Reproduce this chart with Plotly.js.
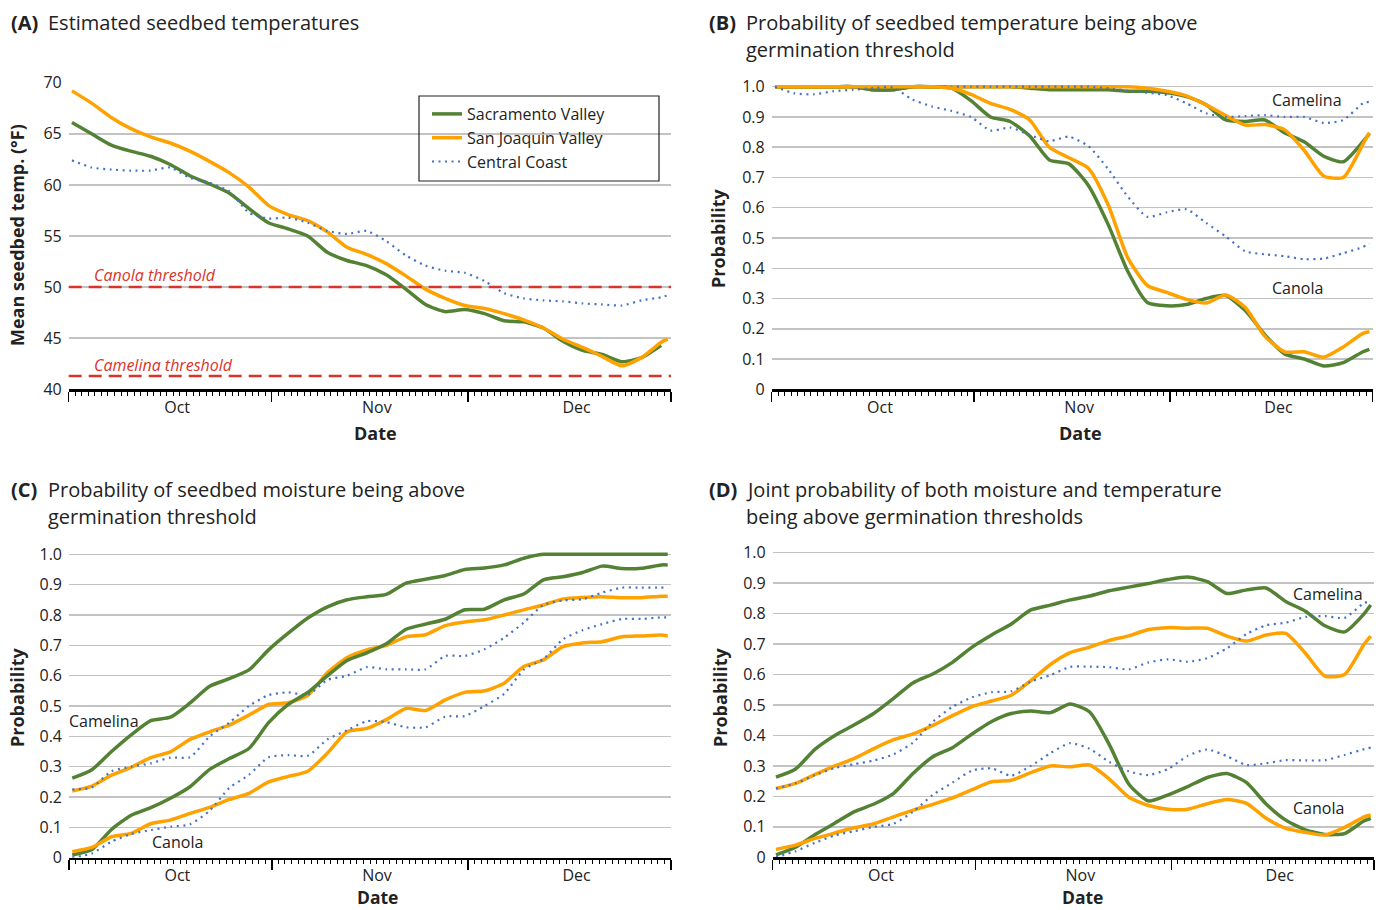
<!DOCTYPE html>
<html><head><meta charset="utf-8">
<script src="https://cdn.plot.ly/plotly-3.0.1.min.js"></script>
<style>body{margin:0;background:#fff}#chart{width:1384px;height:910px}</style>
</head><body><div id="chart"></div>
<script>
// ---- categories (sample dates, every 3 days + last day) ----
const dates = ['2021-10-01','2021-10-04','2021-10-07','2021-10-10','2021-10-13','2021-10-16','2021-10-19','2021-10-22','2021-10-25','2021-10-28','2021-10-31',
'2021-11-03','2021-11-06','2021-11-09','2021-11-12','2021-11-15','2021-11-18','2021-11-21','2021-11-24','2021-11-27','2021-11-30',
'2021-12-03','2021-12-06','2021-12-09','2021-12-12','2021-12-15','2021-12-18','2021-12-21','2021-12-24','2021-12-27','2021-12-30','2021-12-31'];
const regions = ['Sacramento Valley','San Joaquin Valley','Central Coast'];

// ---- (A) mean seedbed temperature, °F ----
const tempSac = [66.1,65.0,63.9,63.3,62.8,62.0,60.9,60.1,59.2,57.7,56.3,55.7,55.0,53.4,52.6,52.1,51.2,49.8,48.3,47.6,47.8,47.4,46.7,46.6,46.0,44.7,43.8,43.4,42.7,43.1,44.3,null];
const tempSjv = [69.2,68.0,66.6,65.5,64.7,64.1,63.3,62.3,61.2,59.8,58.0,57.1,56.5,55.4,53.9,53.2,52.3,51.1,49.8,48.9,48.2,47.9,47.4,46.8,46.0,44.9,44.1,43.2,42.3,43.1,44.6,44.9];
const tempCc  = [62.4,61.7,61.5,61.4,61.4,61.7,60.7,60.2,59.4,57.3,56.7,56.8,56.3,55.5,55.2,55.5,54.5,53.1,52.1,51.6,51.4,50.6,49.4,48.9,48.7,48.6,48.4,48.3,48.2,48.7,49.0,49.2];
const thresholdNames = ['Canola threshold','Camelina threshold'];
const thresholdValues = [50.0, 41.3];

// ---- (B) probability of temperature above threshold ----
const tCamSac = [1,1,1,1,1,0.99,0.99,1,1,1,1,1,1,0.995,0.99,0.99,0.99,0.99,0.985,0.985,0.98,0.967,0.94,0.89,0.885,0.89,0.848,0.818,0.77,0.752,0.818,0.845];
const tCamSjv = [1,1,1,1,1,1,1,1,1,1,1,1,1,1,1,1,1,1,1,0.995,0.985,0.97,0.94,0.905,0.873,0.875,0.858,0.79,0.705,0.70,0.81,0.848];
const tCamCc  = [1,1,1,1,1,1,1,1,1,1,1,1,1,1,1,1,1,0.995,0.987,0.98,0.972,0.945,0.912,0.90,0.903,0.906,0.90,0.90,0.88,0.89,0.945,0.95];
const tCanSac = [1,1,1,1,1,0.99,0.99,1,1,0.995,0.954,0.90,0.885,0.837,0.758,0.745,0.673,0.545,0.39,0.287,0.276,0.28,0.30,0.31,0.26,0.18,0.117,0.10,0.077,0.088,0.124,0.132];
const tCanSjv = [1,1,1,1,1,1,1,1,1,0.995,0.975,0.945,0.925,0.89,0.80,0.765,0.73,0.61,0.435,0.343,0.32,0.297,0.285,0.312,0.27,0.175,0.124,0.124,0.106,0.14,0.185,0.19];
const tCanCc  = [1,0.978,0.975,0.985,0.99,0.995,0.998,0.958,0.935,0.92,0.90,0.855,0.865,0.84,0.82,0.835,0.803,0.728,0.637,0.57,0.585,0.595,0.55,0.505,0.456,0.446,0.44,0.43,0.432,0.45,0.47,0.482];

// ---- (C) probability of moisture above threshold ----
const mCamSac = [0.262,0.29,0.35,0.405,0.452,0.463,0.51,0.565,0.59,0.619,0.685,0.74,0.79,0.827,0.85,0.86,0.868,0.905,0.918,0.93,0.95,0.955,0.965,0.987,1,1,1,1,1,1,1,1];
const mCamSjv = [0.22,0.236,0.272,0.298,0.33,0.349,0.39,0.415,0.437,0.47,0.505,0.511,0.535,0.61,0.66,0.685,0.70,0.728,0.735,0.765,0.777,0.784,0.80,0.817,0.833,0.853,0.858,0.86,0.857,0.857,0.862,0.862];
const mCamCc  = [0.225,0.232,0.285,0.30,0.311,0.33,0.331,0.40,0.445,0.50,0.536,0.545,0.537,0.586,0.60,0.628,0.621,0.621,0.621,0.665,0.665,0.687,0.725,0.775,0.833,0.848,0.852,0.874,0.89,0.89,0.89,0.89];
const mCanSac = [0.009,0.027,0.093,0.14,0.165,0.196,0.234,0.291,0.327,0.36,0.445,0.505,0.545,0.60,0.65,0.675,0.705,0.753,0.77,0.786,0.817,0.819,0.85,0.869,0.916,0.926,0.94,0.961,0.953,0.954,0.965,0.965];
const mCanSjv = [0.02,0.034,0.069,0.08,0.112,0.124,0.146,0.166,0.192,0.212,0.25,0.268,0.285,0.345,0.415,0.426,0.455,0.492,0.485,0.52,0.545,0.55,0.575,0.63,0.652,0.696,0.708,0.712,0.728,0.731,0.734,0.731];
const mCanCc  = [0.0,0.014,0.053,0.078,0.091,0.102,0.11,0.155,0.23,0.273,0.331,0.338,0.336,0.39,0.42,0.45,0.447,0.43,0.43,0.465,0.467,0.50,0.54,0.62,0.655,0.72,0.75,0.77,0.787,0.787,0.792,0.792];

// ---- (D) joint probability ----
const jCamSac = [0.263,0.29,0.355,0.40,0.435,0.473,0.522,0.573,0.602,0.64,0.69,0.73,0.766,0.812,0.828,0.845,0.858,0.875,0.887,0.899,0.912,0.92,0.905,0.866,0.878,0.884,0.84,0.808,0.76,0.74,0.80,0.828];
const jCamSjv = [0.226,0.243,0.272,0.30,0.325,0.357,0.386,0.405,0.433,0.465,0.495,0.513,0.532,0.58,0.633,0.672,0.69,0.712,0.727,0.748,0.754,0.752,0.752,0.726,0.71,0.73,0.735,0.67,0.595,0.60,0.70,0.726];
const jCamCc  = [0.226,0.243,0.27,0.293,0.306,0.318,0.338,0.377,0.445,0.494,0.525,0.542,0.545,0.577,0.598,0.625,0.626,0.624,0.617,0.64,0.65,0.642,0.654,0.686,0.733,0.762,0.77,0.789,0.792,0.786,0.835,0.84];
const jCanSac = [0.008,0.033,0.075,0.112,0.15,0.175,0.21,0.276,0.33,0.36,0.405,0.446,0.472,0.48,0.475,0.503,0.477,0.37,0.24,0.185,0.205,0.232,0.262,0.275,0.245,0.175,0.122,0.09,0.075,0.078,0.12,0.128];
const jCanSjv = [0.026,0.04,0.062,0.08,0.097,0.11,0.133,0.155,0.174,0.195,0.222,0.248,0.253,0.278,0.30,0.297,0.303,0.257,0.197,0.17,0.158,0.158,0.176,0.19,0.177,0.128,0.095,0.082,0.073,0.098,0.133,0.139];
const jCanCc  = [0.0,0.02,0.048,0.072,0.086,0.10,0.11,0.15,0.205,0.245,0.285,0.292,0.268,0.30,0.342,0.375,0.356,0.313,0.282,0.27,0.29,0.333,0.354,0.332,0.303,0.309,0.319,0.318,0.319,0.336,0.355,0.36];

const probTicks = [0,0.1,0.2,0.3,0.4,0.5,0.6,0.7,0.8,0.9,1.0];
const probTickText = ['0','0.1','0.2','0.3','0.4','0.5','0.6','0.7','0.8','0.9','1.0'];
const tempTicks = [40,45,50,55,60,65,70];

// ---------------- drawing ----------------
const W = 1384, H = 910;
const FONT = 'Open Sans, Noto Sans, DejaVu Sans, sans-serif';
const xs = dates.map(d => d + ' 12:00');
const styles = [
  {color:'#548235', width:3.5},
  {color:'#FFA200', width:3.5},
  {color:'#4472C4', width:2.2, dash:'2px,4.5px'}
];
const traces = [];
function addSeries(axis, arrays, legend) {
  arrays.forEach((arr, i) => {
    traces.push({
      type:'scatter', mode:'lines', x: xs, y: arr,
      xaxis:'x'+axis, yaxis:'y'+axis,
      name: regions[i], showlegend: !!legend, legendgroup: regions[i],
      line: Object.assign({shape:'spline', smoothing:0.6}, styles[i]),
      connectgaps:false, hoverinfo:'skip'
    });
  });
}
addSeries('', [tempSac, tempSjv, tempCc], true);
addSeries('2', [tCamSac, tCamSjv, tCamCc]);
addSeries('2', [tCanSac, tCanSjv, tCanCc]);
addSeries('3', [mCamSac, mCamSjv, mCamCc]);
addSeries('3', [mCanSac, mCanSjv, mCanCc]);
addSeries('4', [jCamSac, jCamSjv, jCamCc]);
addSeries('4', [jCanSac, jCanSjv, jCanCc]);

function xdom(l, r) { return [l / W, r / W]; }
function ydom(bottomPx, topPx) { return [1 - bottomPx / H, 1 - topPx / H]; }
function xaxisCfg(l, r) {
  return {
    domain: xdom(l, r), type:'date', range:['2021-10-01','2022-01-01'],
    tick0:'2021-10-01', dtick:'M1', ticklabelmode:'period', tickformat:'%b',
    ticks:'outside', ticklen:10, tickwidth:1.5, tickcolor:'#000',
    showline:true, linecolor:'#000', linewidth:2.5, showgrid:false, zeroline:false,
    minor:{dtick:86400000, ticks:'outside', ticklen:4, tickwidth:1, tickcolor:'#000', showgrid:false},
    tickfont:{size:16, color:'#222', family:FONT}, ticklabelshift:7, ticklabelstandoff:-8, fixedrange:true
  };
}
function yaxisCfg(anchor, bottomPx, unitPx, lo, hi, vals, text) {
  const topPx = bottomPx - (hi - lo) * unitPx;
  return {
    anchor: anchor, domain: ydom(bottomPx, topPx), range:[lo, hi],
    tickmode:'array', tickvals: vals, ticktext: text,
    showgrid:true, gridcolor:'#c3c3c3', gridwidth:1.5, zeroline:false, showline:false,
    ticks:'', tickfont:{size:16, color:'#222', family:FONT}, ticklabelstandoff:6, fixedrange:true
  };
}

const layout = {
  width: W, height: H, margin:{l:0, r:0, t:0, b:0},
  paper_bgcolor:'#fff', plot_bgcolor:'#fff',
  font:{family:FONT, color:'#222'},
  xaxis: Object.assign(xaxisCfg(68.7, 671), {anchor:'y'}),
  yaxis: yaxisCfg('x', 389.3, 10.22, 40, 70, tempTicks, tempTicks.map(String)),
  xaxis2: Object.assign(xaxisCfg(771.7, 1372.7), {anchor:'y2'}),
  yaxis2: yaxisCfg('x2', 389.3, 302.6, 0, 1.015, probTicks, probTickText),
  xaxis3: Object.assign(xaxisCfg(69, 671), {anchor:'y3'}),
  yaxis3: yaxisCfg('x3', 857.7, 303.4, 0, 1.015, probTicks, probTickText),
  xaxis4: Object.assign(xaxisCfg(772.7, 1374), {anchor:'y4'}),
  yaxis4: yaxisCfg('x4', 857.3, 304.6, 0, 1.015, probTicks, probTickText),
  showlegend: true,
  legend: {
    x: 427 / W, y: 1 - 97 / H, xanchor:'left', yanchor:'top',
    bgcolor:'rgba(0,0,0,0)', borderwidth:0,
    font:{size:16, color:'#222', family:FONT}, tracegroupgap:0
  },
  shapes: [],
  annotations: []
};

// legend frame
layout.shapes.push({type:'rect', xref:'paper', yref:'paper', x0:419/W, x1:659/W, y0:1-181/H, y1:1-96/H,
  line:{color:'#222', width:1.2}, fillcolor:'rgba(0,0,0,0)', layer:'above'});

// threshold lines (panel A)
thresholdValues.forEach(v => {
  layout.shapes.push({type:'line', xref:'x domain', yref:'y', x0:0, x1:1, y0:v, y1:v,
    line:{color:'#D9342B', width:2.5, dash:'13px,7px'}, layer:'above'});
});

function ann(px, py, text, o) {
  o = o || {};
  layout.annotations.push(Object.assign({
    xref:'paper', yref:'paper', x: px / W, y: 1 - py / H, text: text, showarrow:false,
    xanchor:'left', yanchor:'middle', font:{size:o.size || 16, color:o.color || '#222', family:FONT}
  }, o.extra || {}));
}
// panel titles
const TS = 20;
ann(9, 22, '<b>(A)</b>', {size:TS});
ann(46, 22, 'Estimated seedbed temperatures', {size:TS});
ann(707, 22, '<b>(B)</b>', {size:TS});
ann(744, 22, 'Probability of seedbed temperature being above', {size:TS});
ann(744, 49, 'germination threshold', {size:TS});
ann(9, 489, '<b>(C)</b>', {size:TS});
ann(46, 489, 'Probability of seedbed moisture being above', {size:TS});
ann(46, 516, 'germination threshold', {size:TS});
ann(707, 489, '<b>(D)</b>', {size:TS});
ann(744, 489, 'Joint probability of both moisture and temperature', {size:TS});
ann(744, 516, 'being above germination thresholds', {size:TS});

// axis titles
const AS = 18;
ann(17, 235, '<b>Mean seedbed temp. (°F)</b>', {size:AS, extra:{xanchor:'center', textangle:-90}});
ann(376, 433, '<b>Date</b>', {size:AS, extra:{xanchor:'center'}});
ann(718, 238, '<b>Probability</b>', {size:AS, extra:{xanchor:'center', textangle:-90}});
ann(1080, 433, '<b>Date</b>', {size:AS, extra:{xanchor:'center'}});
ann(17, 697, '<b>Probability</b>', {size:AS, extra:{xanchor:'center', textangle:-90}});
ann(377, 897, '<b>Date</b>', {size:17.5, extra:{xanchor:'center'}});
ann(720, 697, '<b>Probability</b>', {size:AS, extra:{xanchor:'center', textangle:-90}});
ann(1082, 897, '<b>Date</b>', {size:17.5, extra:{xanchor:'center'}});

// threshold labels
ann(92, 275, '<i>' + thresholdNames[0] + '</i>', {color:'#D9342B'});
ann(92, 365, '<i>' + thresholdNames[1] + '</i>', {color:'#D9342B'});

// crop labels
ann(1270, 100, 'Camelina');
ann(1270, 288, 'Canola');
ann(67, 721, 'Camelina');
ann(150, 842, 'Canola');
ann(1291, 594, 'Camelina');
ann(1291, 808, 'Canola');

Plotly.newPlot('chart', traces, layout, {staticPlot:true, displayModeBar:false});
</script>
</body></html>
